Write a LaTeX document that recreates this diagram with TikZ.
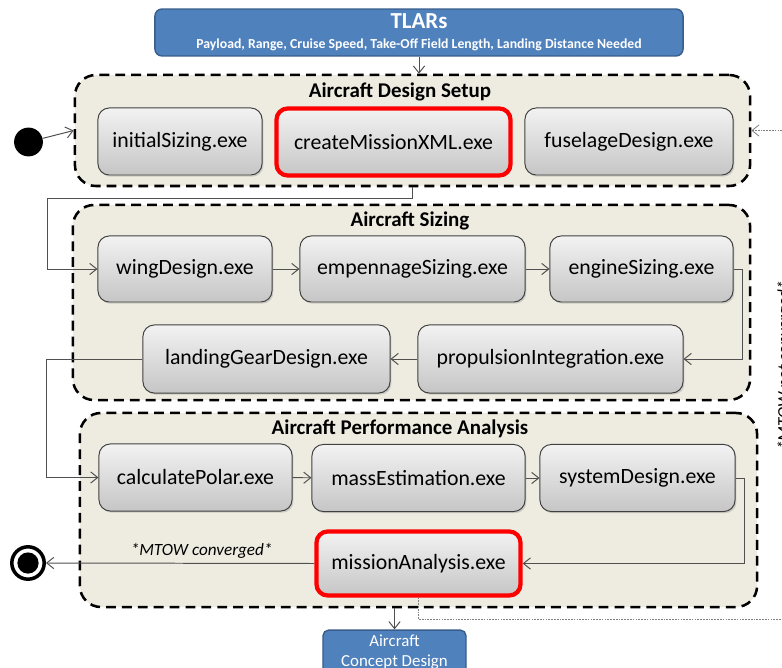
\documentclass[tikz,border=0pt]{standalone}
\usepackage{fontspec}
\setmainfont{Carlito}
\usetikzlibrary{arrows.meta,shadows}

\definecolor{tlarblue}{HTML}{4F81BD}
\definecolor{tlarframe}{HTML}{385D8A}
\definecolor{groupfill}{HTML}{EEECE1}
\definecolor{linkgray}{HTML}{505050}

\begin{document}
\begin{tikzpicture}[x=0.025cm, y=-0.025cm,
  exe/.style={rectangle, draw=black!75, line width=0.7pt, rounded corners=8pt,
              top color=gray!10, bottom color=gray!45, minimum height=1.675cm,
              font=\fontsize{15.5}{18}\selectfont,
              drop shadow={shadow xshift=1pt, shadow yshift=-1.2pt, opacity=0.3}},
  keyexe/.style={exe, draw=red, line width=3pt},
  group/.style={rectangle, draw, fill=groupfill, line width=1.8pt,
                dash pattern=on 7pt off 4.3pt, rounded corners=15pt},
  grouptitle/.style={font=\fontsize{14.9}{18}\selectfont\bfseries},
  info/.style={rectangle, draw=tlarframe, fill=tlarblue, line width=1pt,
               rounded corners=5pt, text=white, align=center},
  arr/.style={-{Straight Barb[length=5pt,width=8pt]}, linkgray, line width=0.7pt},
  loopback/.style={arr, gray, dash pattern=on 1.2pt off 0.8pt, line width=0.6pt},
  guard/.style={text=black, font=\fontsize{12.2}{14}\selectfont\itshape}
]
  \useasboundingbox (0,0) rectangle (782,668);

  % Input requirements
  \node[info, minimum width=13.2cm, minimum height=1.075cm,
        font=\fontsize{9.8}{14.5}\selectfont\bfseries] (tlars) at (419,32.5)
    {{\fontsize{16.3}{14.5}\selectfont TLARs}\\Payload, Range, Cruise Speed, Take-Off Field Length, Landing Distance Needed};

  % Groups
  \node[group, minimum width=16.875cm, minimum height=2.775cm] (setup) at (412.5,130.5) {};
  \node[group, minimum width=16.925cm, minimum height=4.875cm] (sizing) at (411.5,302.5) {};
  \node[group, minimum width=16.925cm, minimum height=4.85cm] (perf) at (418.5,510) {};
  \node[grouptitle] (setuptitle) at (400,92) {Aircraft Design Setup};
  \node[grouptitle] (sizingtitle) at (410,221) {Aircraft Sizing};
  \node[grouptitle] (perftitle) at (400,429) {Aircraft Performance Analysis};

  % Aircraft Design Setup
  \node[exe, minimum width=4.1cm] (init) at (180,141.5) {initialSizing.exe};
  \node[keyexe, minimum width=5.85cm] (cmx) at (393.5,142) {createMissionXML.exe};
  \node[exe, minimum width=5.2cm] (fus) at (629,141.5) {fuselageDesign.exe};

  % Aircraft Sizing
  \node[exe, minimum width=4.35cm, minimum height=1.65cm] (wing) at (185,269) {wingDesign.exe};
  \node[exe, minimum width=5.625cm, minimum height=1.65cm] (emp) at (412.5,269) {empennageSizing.exe};
  \node[exe, minimum width=4.575cm, minimum height=1.65cm] (eng) at (641.5,269) {engineSizing.exe};
  \node[exe, minimum width=6.175cm, minimum height=1.7cm] (lgd) at (266.5,359) {landingGearDesign.exe};
  \node[exe, minimum width=6.625cm, minimum height=1.7cm] (prop) at (550.5,359) {propulsionIntegration.exe};

  % Aircraft Performance Analysis
  \node[exe, minimum width=4.825cm] (calc) at (195.5,477.5) {calculatePolar.exe};
  \node[exe, minimum width=5.325cm] (mass) at (418.5,478) {massEstimation.exe};
  \node[exe, minimum width=4.875cm] (sys) at (637.5,478) {systemDesign.exe};
  \node[keyexe, minimum width=5.1cm, minimum height=1.6cm] (mis) at (418.5,563.5) {missionAnalysis.exe};

  % Output
  \node[info, minimum width=3.575cm, minimum height=1cm, rounded corners=4pt,
        font=\fontsize{12}{14.2}\selectfont] (acd) at (394.5,652) {Aircraft\\Concept Design};

  % Start and end states
  \node[circle, fill=black, minimum size=0.72cm, inner sep=0pt] (start) at (28.5,142) {};
  \node[circle, draw, line width=2.5pt, fill=white, minimum size=0.81cm, inner sep=0pt] (stop) at (28,563) {};
  \node[circle, fill=black, minimum size=0.53cm, inner sep=0pt] (stopdot) at (stop) {};

  % Flow
  \draw[arr] (tlars.south) -- (tlars.south |- setup.north);
  \draw[arr] (start) -- (setup.west);
  \draw[arr] (setup.south) -- ++(0,11) -- ++(-365.5,0) |- (wing.west);
  \draw[arr] (wing) -- (emp);
  \draw[arr] (emp) -- (eng);
  \draw[arr] (eng.east) -- ++(9,0) |- (prop.east);
  \draw[arr] (prop) -- (lgd);
  \draw[arr] (lgd.west) -- ++(-96,0) |- (calc.west);
  \draw[arr] (calc) -- (mass);
  \draw[arr] (mass) -- (sys);
  \draw[arr] (sys.east) -- ++(9,0) |- (mis.east);
  \draw[arr] (mis.west) -- node[guard, above, pos=0.42] {*MTOW converged*} (stop.east);
  \draw[arr] (perf.south -| acd.north) -- (acd.north);

  % Iteration loop
  \draw[loopback] (mis.south) -- ++(0,22) -- ++(379,0)
    |- node[guard, sloped, above, pos=0.26] {*MTOW not converged*} (setup.east);
\end{tikzpicture}
\end{document}
